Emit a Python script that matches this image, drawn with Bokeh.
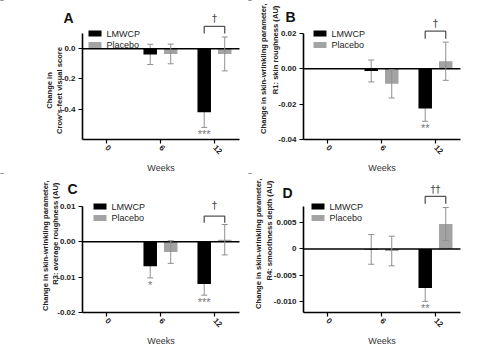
import math
from bokeh.plotting import figure
from bokeh.layouts import column, row
from bokeh.models import (ColumnDataSource, Whisker, TeeHead, FixedTicker,
                          NumeralTickFormatter, Range1d)
from bokeh.embed import file_html
from bokeh.resources import INLINE
from bokeh.core.properties import value

NaN = float("nan")

weeks = ["0", "6", "12"]
groups = ["LMWCP", "Placebo"]

# Panel A: Crow's-feet visual score
a_lmwcp = [NaN, -0.038, -0.42]
a_lmwcp_sem = [NaN, 0.067, 0.10]
a_placebo = [NaN, -0.035, -0.035]
a_placebo_sem = [NaN, 0.065, 0.112]

# Panel B: R1 skin roughness
b_lmwcp = [NaN, -0.0012, -0.0225]
b_lmwcp_sem = [NaN, 0.0062, 0.0072]
b_placebo = [NaN, -0.0085, 0.0043]
b_placebo_sem = [NaN, 0.0080, 0.0108]

# Panel C: R3 average roughness
c_lmwcp = [NaN, -0.0069, -0.0119]
c_lmwcp_sem = [NaN, 0.0033, 0.0032]
c_placebo = [NaN, -0.0029, 0.0006]
c_placebo_sem = [NaN, 0.0032, 0.0043]

# Panel D: R4 smoothness depth
d_lmwcp = [NaN, -0.0001, -0.0074]
d_lmwcp_sem = [NaN, 0.0028, 0.0025]
d_placebo = [NaN, -0.0004, 0.0047]
d_placebo_sem = [NaN, 0.0028, 0.0031]

stars = [["", "", "***"], ["", "", "**"], ["", "*", "***"], ["", "", "**"]]
daggers = ["\u2020", "\u2020", "\u2020", "\u2020\u2020"]

panels = [
    dict(letter="A", lm=a_lmwcp, lms=a_lmwcp_sem, pl=a_placebo, pls=a_placebo_sem,
         lo=-0.6, hi=0.1, ticks=[0.0, -0.2, -0.4], fmt="0.0", over={},
         lines=["Change in", "Crow's-feet visual score"],
         bracket=(0.147, 0.1), dag=0.197),
    dict(letter="B", lm=b_lmwcp, lms=b_lmwcp_sem, pl=b_placebo, pls=b_placebo_sem,
         lo=-0.04, hi=0.02, ticks=[0.02, 0.0, -0.02, -0.04], fmt="0.00", over={},
         lines=["Change in skin-wrinkling parameter,", "R1: skin  roughness (AU)"],
         bracket=(0.0213, 0.017), dag=0.0259),
    dict(letter="C", lm=c_lmwcp, lms=c_lmwcp_sem, pl=c_placebo, pls=c_placebo_sem,
         lo=-0.02, hi=0.01, ticks=[0.01, 0.0, -0.01, -0.02], fmt="0.00", over={},
         lines=["Change in skin-wrinkling parameter,", "R3: average  roughness (AU)"],
         bracket=(0.0073, 0.0054), dag=0.0104),
    dict(letter="D", lm=d_lmwcp, lms=d_lmwcp_sem, pl=d_placebo, pls=d_placebo_sem,
         lo=-0.012, hi=0.008, ticks=[0.005, 0.0, -0.005, -0.010], fmt="0.000", over={0: "0"},
         lines=["Change in skin-wrinkling parameter,", "R4: smoothness  depth (AU)"],
         bracket=(0.0099, 0.0085), dag=0.0113),
]

BLACK = "#000000"
GREY = "#a3a3a3"
ERR = "#8f8f8f"
FONT = "Liberation Sans"

OFF = 0.19
BW = 0.25
PX_X = 54.0          # pixels per category
X0, X1 = -0.444, 2.463
AXIS_PX = 106
AXIS_BOTTOM = 139    # px from top of each panel

# layout in pixels (panel-relative)
LAYOUT = [
    dict(axl=82, letter=(68, 17), lx=(49, 59), ly=90, align="center", leg=88),
    dict(axl=55, letter=(42, 16), lx=(15, 27), ly=3, align="right", leg=65),
    dict(axl=82, letter=(72, 15), lx=(45, 55), ly=7, align="right", leg=93),
    dict(axl=55, letter=(39, 19), lx=(10, 21), ly=5, align="right", leg=63),
]
LEG_ROWS = (33, 44.5)


def make_panel(i, P):
    L = LAYOUT[i]
    col = i % 2
    rw = i // 2
    width = 248 if col == 0 else 249
    height = 173 if rw == 0 else 180
    scale = AXIS_PX / (P["hi"] - P["lo"])
    xs = X0 - L["axl"] / PX_X
    xe = xs + width / PX_X
    ys = P["lo"] - (height - AXIS_BOTTOM) / scale
    ye = P["lo"] + AXIS_BOTTOM / scale

    def px2x(px):
        return xs + px / PX_X

    def px2y(py):
        return P["lo"] + (AXIS_BOTTOM - py) / scale

    p = figure(width=width, height=height, output_backend="svg", toolbar_location=None,
               x_range=Range1d(xs, xe), y_range=Range1d(ys, ye),
               min_border_left=0, min_border_right=0,
               min_border_top=0, min_border_bottom=0)
    p.outline_line_color = None
    p.grid.visible = False
    p.background_fill_color = "white"
    p.border_fill_color = "white"

    idx = [0, 1, 2]
    xl = [k - OFF for k in idx]
    xp = [k + OFF for k in idx]
    lm_lo = [m - s for m, s in zip(P["lm"], P["lms"])]
    lm_hi = [m + s for m, s in zip(P["lm"], P["lms"])]
    pl_lo = [m - s for m, s in zip(P["pl"], P["pls"])]
    pl_hi = [m + s for m, s in zip(P["pl"], P["pls"])]
    src_l = ColumnDataSource(dict(x=xl, top=P["lm"], lo=lm_lo, hi=lm_hi, st=stars[i]))
    src_p = ColumnDataSource(dict(x=xp, top=P["pl"], lo=pl_lo, hi=pl_hi))

    wl = Whisker(source=src_l, base="x", upper="hi", lower="lo", line_color=ERR,
                 line_width=1, level="underlay",
                 upper_head=TeeHead(size=6, line_color=ERR, line_width=1),
                 lower_head=TeeHead(size=6, line_color=ERR, line_width=1))
    p.add_layout(wl)

    p.vbar(x="x", top="top", bottom=0, width=BW, source=src_l,
           fill_color=BLACK, line_color=None)
    p.vbar(x="x", top="top", bottom=0, width=BW, source=src_p,
           fill_color=GREY, line_color=None)

    wp = Whisker(source=src_p, base="x", upper="hi", lower="lo", line_color=ERR,
                 line_width=1, level="overlay",
                 upper_head=TeeHead(size=6, line_color=ERR, line_width=1),
                 lower_head=TeeHead(size=6, line_color=ERR, line_width=1))
    p.add_layout(wp)

    # zero line
    p.segment(x0=[X0], y0=[0], x1=[X1], y1=[0], line_color="black", line_width=1.5)

    # significance stars below LMWCP bars
    p.text(x="x", y="lo", text="st", source=src_l, text_align="center",
           text_baseline="top", y_offset=1, text_color="#777777",
           text_font_size="11px", text_font=value(FONT))

    # bracket at week 12 between groups
    bx0, bx1 = 2 - OFF, 2 + OFF
    by, bl = P["bracket"]
    p.multi_line(xs=[[bx0, bx0, bx1, bx1]], ys=[[bl, by, by, bl]],
                 line_color="#555555", line_width=1.3)
    p.text(x=[2.0], y=[P["dag"]], text=[daggers[i]], text_align="center",
           text_baseline="middle", text_color="#444444", text_font_size="10px",
           text_font=value("DejaVu Sans"))

    # panel letter
    p.text(x=[px2x(L["letter"][0])], y=[px2y(L["letter"][1])], text=[P["letter"]],
           text_align="center", text_baseline="middle", text_color="#111111",
           text_font_size="14px", text_font_style="bold", text_font=value(FONT))

    # y-axis title (two rotated lines)
    for lxp, line in zip(L["lx"], P["lines"]):
        p.text(x=[px2x(lxp)], y=[px2y(L["ly"])], text=[line], angle=math.pi / 2,
               text_align=L["align"], text_baseline="middle", text_color="#222222",
               text_font_size="7.6px", text_font_style="bold", text_font=value(FONT))

    # legend (swatches + labels)
    gx = px2x(L["leg"] + 6.5)
    lgx = px2x(L["leg"] + 18)
    leg_y = [px2y(r) for r in LEG_ROWS]
    p.rect(x=[gx, gx], y=leg_y, width=13, height=6, width_units="screen",
           height_units="screen", fill_color=[BLACK, GREY], line_color=None)
    p.text(x=[lgx, lgx], y=leg_y, text=groups, text_align="left", text_baseline="middle",
           text_color="#222222", text_font_size="9px", text_font=value(FONT))

    # axes
    xa = p.xaxis[0]
    xa.ticker = FixedTicker(ticks=idx)
    xa.major_label_overrides = {0: weeks[0], 1: weeks[1], 2: weeks[2]}
    xa.major_label_orientation = -math.pi / 4
    xa.axis_label = "Weeks"
    xa.bounds = (X0, X1)
    xa.fixed_location = P["lo"]
    ya = p.yaxis[0]
    ya.ticker = FixedTicker(ticks=P["ticks"])
    ya.formatter = NumeralTickFormatter(format=P["fmt"])
    if P["over"]:
        ya.major_label_overrides = P["over"]
    ya.bounds = (P["lo"], P["hi"])
    ya.fixed_location = X0

    for ax in (xa, ya):
        ax.axis_line_width = 1.6
        ax.axis_line_color = "black"
        ax.major_tick_line_color = "black"
        ax.major_tick_line_width = 1.2
        ax.major_tick_out = 4
        ax.major_tick_in = 0
        ax.minor_tick_line_color = None
        ax.major_label_text_font = FONT
        ax.major_label_text_font_style = "bold"
        ax.major_label_text_font_size = "8px"
        ax.major_label_text_color = "#222222"
        ax.major_label_standoff = 3
    xa.axis_label_text_font = FONT
    xa.axis_label_text_font_style = "normal"
    xa.axis_label_text_font_size = "9px"
    xa.axis_label_text_color = "#333333"
    xa.axis_label_standoff = 4
    return p


figs = [make_panel(i, P) for i, P in enumerate(panels)]
layout = column(row(figs[0], figs[1]), row(figs[2], figs[3]))

open("out.html", "w").write(file_html(layout, INLINE))
